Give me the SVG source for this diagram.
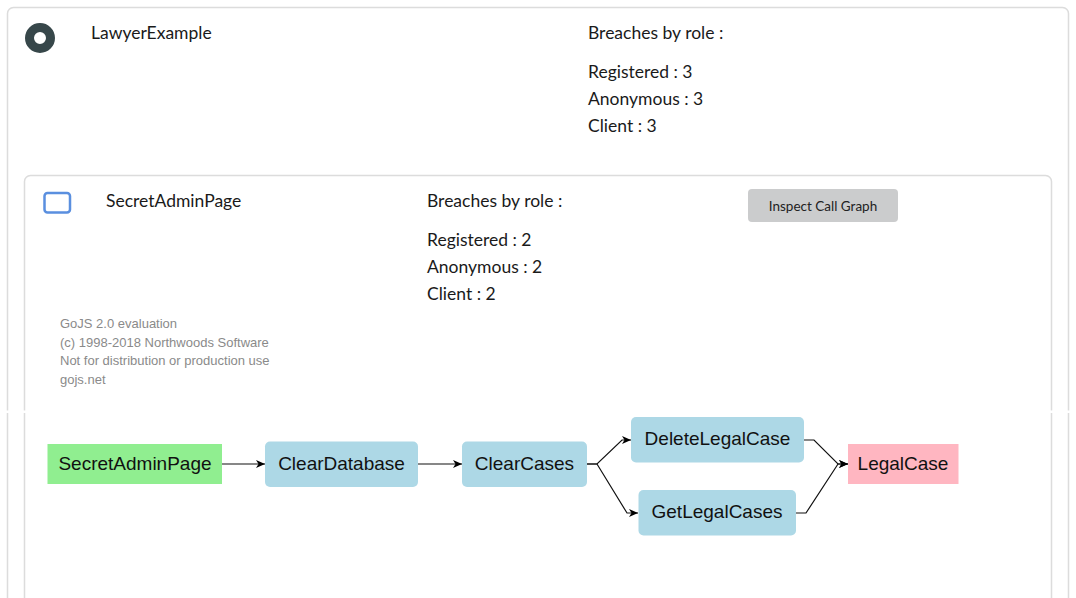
<svg xmlns="http://www.w3.org/2000/svg" width="1076" height="598" viewBox="0 0 1076 598">
<defs>
<marker id="arr" markerWidth="10" markerHeight="8" refX="9" refY="4" orient="auto" markerUnits="userSpaceOnUse">
<path d="M0,0 L9,4 L0,8 L2.5,4 z" fill="#000"/>
</marker>
<style>
.card{fill:#fff;stroke:#dcdcdc;stroke-width:1.5}
.hd{font-family:Lato,"Liberation Sans",sans-serif;font-size:17.5px;fill:#1a1a1a}
.wm{font-family:"Liberation Sans",Arial,sans-serif;font-size:13px;fill:#8a8a8a}
.nt{font-family:"Liberation Sans",Arial,sans-serif;font-size:19px;fill:#111;text-anchor:middle}
.blue{fill:#add8e6}
.edge{fill:none;stroke:#111;stroke-width:1.2;marker-end:url(#arr)}
</style>
</defs>
<rect width="1076" height="598" fill="#fff"/>
<g id="outer-card">
<rect class="card" x="7.5" y="7.5" width="1061" height="640" rx="6"/>
<circle cx="40" cy="38" r="10.5" fill="none" stroke="#37474a" stroke-width="9"/>
<text class="hd" x="91" y="39">LawyerExample</text>
<text class="hd" x="588" y="39">Breaches by role :</text>
<text class="hd" x="588" y="78">Registered : 3</text>
<text class="hd" x="588" y="105">Anonymous : 3</text>
<text class="hd" x="588" y="132">Client : 3</text>
</g>
<g id="inner-card">
<rect class="card" x="24.5" y="175.5" width="1027" height="470" rx="6"/>
<rect x="44.5" y="193" width="25.5" height="19.5" rx="3" fill="#fff" stroke="#5a8fdf" stroke-width="2.5"/>
<text class="hd" x="106" y="207">SecretAdminPage</text>
<text class="hd" x="427" y="207">Breaches by role :</text>
<text class="hd" x="427" y="246">Registered : 2</text>
<text class="hd" x="427" y="273">Anonymous : 2</text>
<text class="hd" x="427" y="300">Client : 2</text>
<g id="btn-inspect">
<rect x="748" y="189" width="150" height="33" rx="4" fill="#cbcccd"/>
<text x="823" y="211" text-anchor="middle" font-family="Lato,'Liberation Sans',sans-serif" font-size="13.5px" fill="#222">Inspect Call Graph</text>
</g>
<text class="wm" x="60" y="328">GoJS 2.0 evaluation</text>
<text class="wm" x="60" y="347">(c) 1998-2018 Northwoods Software</text>
<text class="wm" x="60" y="365">Not for distribution or production use</text>
<text class="wm" x="60" y="384">gojs.net</text>
</g>
<rect x="0" y="410.5" width="1076" height="2.5" fill="#fff"/>
<g id="connectors">
<path class="edge" d="M222,464 L265,464"/>
<path class="edge" d="M418,464 L462,464"/>
<path class="edge" d="M587,464 L597,464 L622,440 L631,440"/>
<path class="edge" d="M587,464 L597,464 L627,513 L638,513"/>
<path class="edge" d="M804,440 L814,440 L838,464 L848,464"/>
<path class="edge" d="M796,513 L806,513 L838,464 L848,464"/>
</g>
<g id="n-SecretAdminPage">
<rect x="47.5" y="444" width="174.5" height="40" fill="#90ee90"/>
<text class="nt" x="135" y="469.5">SecretAdminPage</text>
</g>
<g id="n-ClearDatabase">
<rect class="blue" x="265" y="441.5" width="153" height="45.5" rx="5"/>
<text class="nt" x="341.5" y="469.5">ClearDatabase</text>
</g>
<g id="n-ClearCases">
<rect class="blue" x="462" y="441.5" width="125" height="45.5" rx="5"/>
<text class="nt" x="524.5" y="469.5">ClearCases</text>
</g>
<g id="n-DeleteLegalCase">
<rect class="blue" x="631" y="417" width="173" height="45.5" rx="5"/>
<text class="nt" x="717.5" y="445">DeleteLegalCase</text>
</g>
<g id="n-GetLegalCases">
<rect class="blue" x="638.5" y="490" width="157.5" height="45.5" rx="5"/>
<text class="nt" x="717" y="518">GetLegalCases</text>
</g>
<g id="n-LegalCase">
<rect x="848" y="444" width="110.5" height="40" fill="#ffb6c1"/>
<text class="nt" x="903" y="469.5">LegalCase</text>
</g>
</svg>
